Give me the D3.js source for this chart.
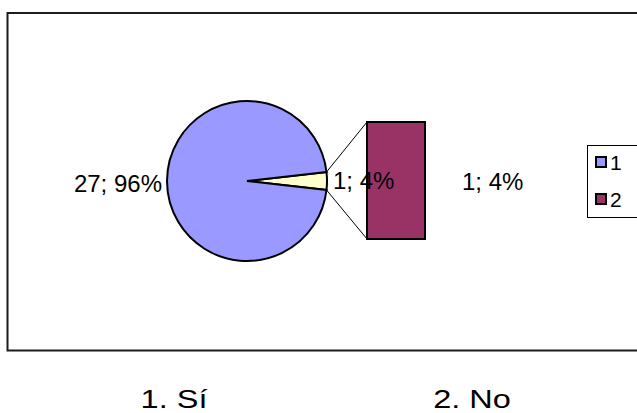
<!DOCTYPE html>
<html>
<head>
<meta charset="utf-8">
<script src="https://cdn.jsdelivr.net/npm/d3@7"></script>
<style>
  html, body { margin: 0; padding: 0; background: #fff; }
  svg { display: block; font-family: "Liberation Sans", Arial, sans-serif; }
</style>
</head>
<body>
<svg id="chart" width="637" height="413"></svg>
<script>
// Pie: answer "1" and the grouped remainder that is broken out into the bar
const pieKeys = ["other", "1"];
const pieValues = [1, 27];
const pieLabels = ["", "27; 96%"];
const pieColors = ["#FFFFCC", "#9999FF"];

// Secondary stacked bar (the broken-out answers)
const barKeys = ["2"];
const barValues = [1];
const barLabels = ["1; 4%"];
const barColors = ["#993366"];

// Label on the grouped slice
const otherLabel = "1; 4%";

// Legend entries
const legendKeys = ["1", "2"];
const legendColors = ["#9999FF", "#993366"];

// Category captions under the chart
const categories = ["1. Sí", "2. No"];

const svg = d3.select("#chart");

// Outer frame (runs off the right edge)
svg.append("rect")
  .attr("x", 7.5).attr("y", 13)
  .attr("width", 700).attr("height", 337.5)
  .attr("fill", "#fff")
  .attr("stroke", "#1c1c1c").attr("stroke-width", 2);

// ---- Pie ----
const cx = 247, cy = 181, r = 80;
const total = d3.sum(pieValues);
const otherSpan = 2 * Math.PI * pieValues[0] / total;
const start = Math.PI / 2 - otherSpan / 2;   // grouped slice centred at 3 o'clock

const pie = d3.pie().sort(null).value(d => d)
  .startAngle(start).endAngle(start + 2 * Math.PI);
const arcs = pie(pieValues);
const arc = d3.arc().innerRadius(0).outerRadius(r);

const gPie = svg.append("g").attr("transform", `translate(${cx},${cy})`);
gPie.selectAll("path").data(arcs).join("path")
  .attr("d", arc)
  .attr("fill", (d, i) => pieColors[i])
  .attr("stroke", "#000").attr("stroke-width", 2)
  .attr("stroke-linejoin", "miter");

// ---- Secondary bar ----
const xBar = d3.scaleBand().domain(barKeys).range([367, 425]).padding(0);
const yBar = d3.scaleLinear().domain([0, d3.sum(barValues)]).range([239, 122]);
const stack = d3.stack().keys(barKeys)([Object.fromEntries(barKeys.map((k, i) => [k, barValues[i]]))]);

svg.append("g").selectAll("rect").data(stack).join("rect")
  .attr("x", d => xBar(d.key))
  .attr("width", xBar.bandwidth())
  .attr("y", d => yBar(d[0][1]))
  .attr("height", d => yBar(d[0][0]) - yBar(d[0][1]))
  .attr("fill", (d, i) => barColors[i])
  .attr("stroke", "#000").attr("stroke-width", 2);

// Connector lines from the grouped slice to the bar
const oa = arcs[0];
const pt = a => [cx + r * Math.sin(a), cy - r * Math.cos(a)];
const [ux, uy] = pt(oa.startAngle);
const [lx, ly] = pt(oa.endAngle);
const barLeft = xBar(barKeys[0]);
svg.append("line")
  .attr("x1", ux).attr("y1", uy).attr("x2", barLeft).attr("y2", yBar(d3.sum(barValues)))
  .attr("stroke", "#000").attr("stroke-width", 1);
svg.append("line")
  .attr("x1", lx).attr("y1", ly).attr("x2", barLeft).attr("y2", yBar(0))
  .attr("stroke", "#000").attr("stroke-width", 1);

// ---- Data labels ----
const labelSize = 24;
svg.append("text")
  .attr("x", cx - r - 5).attr("y", 192)
  .attr("text-anchor", "end")
  .attr("font-size", labelSize).attr("fill", "#000")
  .text(pieLabels[1]);

svg.append("text")
  .attr("x", cx + r + 6).attr("y", 189)
  .attr("font-size", labelSize).attr("fill", "#000")
  .text(otherLabel);

svg.append("text")
  .attr("x", 462).attr("y", 190)
  .attr("font-size", labelSize).attr("fill", "#000")
  .text(barLabels[0]);

// ---- Legend ----
const gLeg = svg.append("g");
gLeg.append("rect")
  .attr("x", 587.5).attr("y", 145.5)
  .attr("width", 80).attr("height", 72)
  .attr("fill", "#fff").attr("stroke", "#000").attr("stroke-width", 1);
const legY = d3.scalePoint().domain(legendKeys).range([162, 199]);
legendKeys.forEach((k, i) => {
  gLeg.append("rect")
    .attr("x", 596).attr("y", legY(k) - 5)
    .attr("width", 10).attr("height", 10)
    .attr("fill", legendColors[i])
    .attr("stroke", "#000").attr("stroke-width", 2);
  gLeg.append("text")
    .attr("x", 610).attr("y", legY(k) + 7.5)
    .attr("font-size", 21).attr("fill", "#000")
    .text(k);
});

// ---- Category captions ----
const xCat = d3.scalePoint().domain(categories).range([174, 472]);
svg.append("g").selectAll("text").data(categories).join("text")
  .attr("transform", d => `translate(${xCat(d)},408) scale(1.3,1)`)
  .attr("text-anchor", "middle")
  .attr("font-size", 25).attr("fill", "#000")
  .text(d => d);
</script>
</body>
</html>
